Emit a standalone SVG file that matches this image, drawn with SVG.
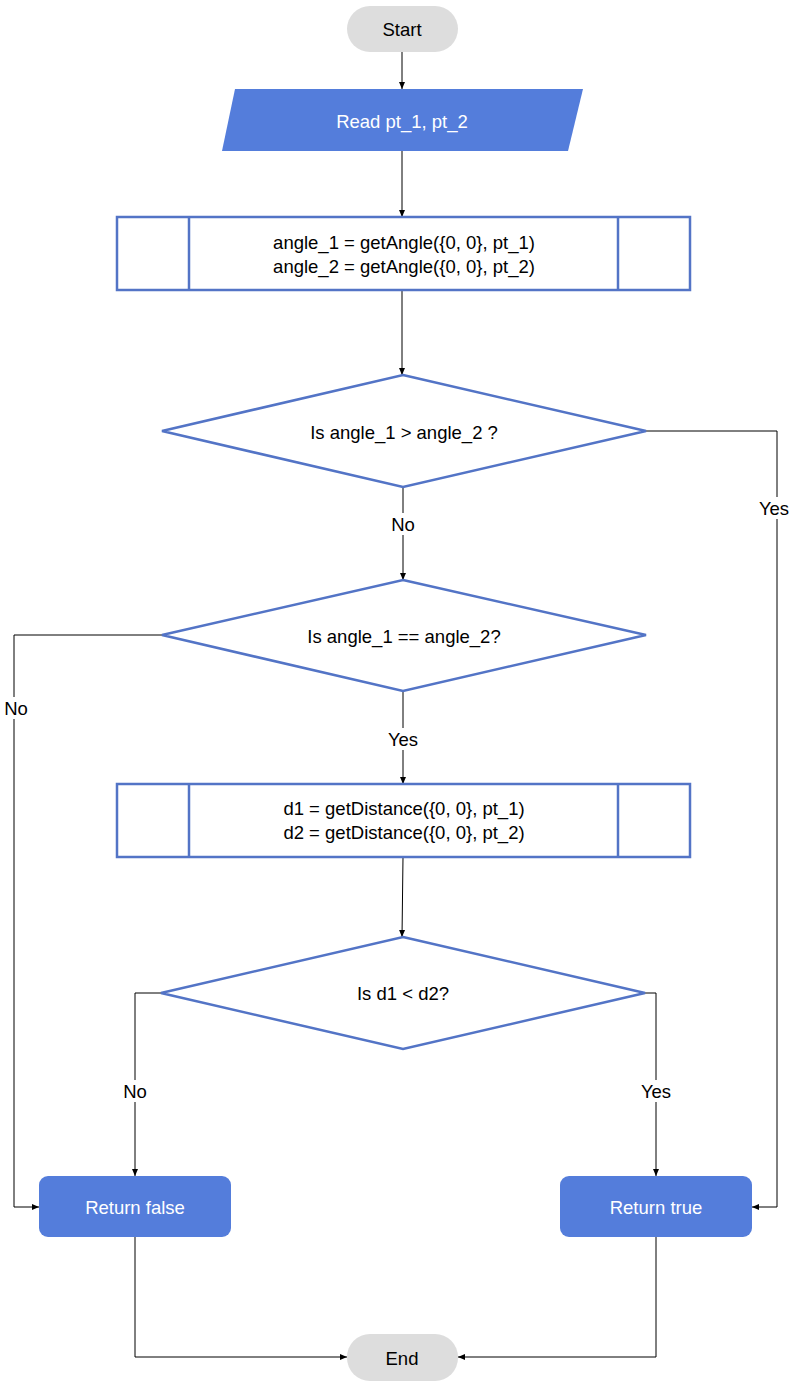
<svg xmlns="http://www.w3.org/2000/svg" width="792" height="1384" viewBox="0 0 792 1384">
<defs>
<marker id="ah" markerWidth="8" markerHeight="8" refX="7" refY="4" orient="auto" markerUnits="userSpaceOnUse">
<path d="M0,1 L7,4 L0,7 Z" fill="#000"/>
</marker>
<style>
text{font-family:"Liberation Sans",Arial,sans-serif;font-size:18.5px;text-anchor:middle;dominant-baseline:central;}
.term{fill:#dddddd;}
.blue{fill:#547ddb;}
.wt{fill:#ffffff;}
.bk{fill:#000000;}
.box{fill:#ffffff;stroke:#5374c6;stroke-width:2.5;}
.con{fill:none;stroke:#000;stroke-width:1;marker-end:url(#ah);}
.lbl{fill:#ffffff;}
</style>
</defs>
<rect width="792" height="1384" fill="#ffffff"/>
<g id="connectors">
<path class="con" d="M402,52 L402,89"/>
<path class="con" d="M402,151 L402,217"/>
<path class="con" d="M402,290 L402,375"/>
<path class="con" d="M403,487 L403,580"/>
<path class="con" d="M646,431 L777,431 L777,1207 L752,1207"/>
<path class="con" d="M162,635 L14,635 L14,1207 L39,1207"/>
<path class="con" d="M403,691 L403,784"/>
<path class="con" d="M403,857 L402,937"/>
<path class="con" d="M161,993 L135,993 L135,1176"/>
<path class="con" d="M645,993 L656,993 L656,1176"/>
<path class="con" d="M135,1237 L135,1357 L347,1357"/>
<path class="con" d="M656,1237 L656,1357 L458,1357"/>
<rect class="lbl" x="386" y="513" width="34" height="22"/>
<text class="bk" x="403" y="524">No</text>
<rect class="lbl" x="757" y="497" width="34" height="22"/>
<text class="bk" x="774" y="508">Yes</text>
<rect class="lbl" x="0" y="697" width="32" height="22"/>
<text class="bk" x="16" y="708">No</text>
<rect class="lbl" x="386" y="728" width="34" height="22"/>
<text class="bk" x="403" y="739">Yes</text>
<rect class="lbl" x="118" y="1080" width="34" height="22"/>
<text class="bk" x="135" y="1091">No</text>
<rect class="lbl" x="639" y="1080" width="34" height="22"/>
<text class="bk" x="656" y="1091">Yes</text>
</g>
<g id="start">
<rect class="term" x="347" y="6" width="111" height="46" rx="23"/>
<text class="bk" x="402" y="29">Start</text>
</g>
<g id="read">
<polygon class="blue" points="235,89 583,89 568,151 222,151"/>
<text class="wt" x="402" y="121">Read pt_1, pt_2</text>
</g>
<g id="process1">
<rect class="box" x="117" y="217" width="573" height="73"/>
<line class="box" x1="189" y1="217" x2="189" y2="290"/>
<line class="box" x1="618" y1="217" x2="618" y2="290"/>
<text class="bk" x="404" y="242">angle_1 = getAngle({0, 0}, pt_1)</text>
<text class="bk" x="404" y="266">angle_2 = getAngle({0, 0}, pt_2)</text>
</g>
<g id="decision1">
<polygon class="box" points="403,375 646,431 403,487 162,431"/>
<text class="bk" x="404" y="432">Is angle_1 &gt; angle_2 ?</text>
</g>
<g id="decision2">
<polygon class="box" points="403,580 646,635 403,691 162,635"/>
<text class="bk" x="404" y="636">Is angle_1 == angle_2?</text>
</g>
<g id="process2">
<rect class="box" x="117" y="784" width="573" height="73"/>
<line class="box" x1="189" y1="784" x2="189" y2="857"/>
<line class="box" x1="618" y1="784" x2="618" y2="857"/>
<text class="bk" x="404" y="808">d1 = getDistance({0, 0}, pt_1)</text>
<text class="bk" x="404" y="832">d2 = getDistance({0, 0}, pt_2)</text>
</g>
<g id="decision3">
<polygon class="box" points="403,937 645,993 403,1049 161,993"/>
<text class="bk" x="403" y="993">Is d1 &lt; d2?</text>
</g>
<g id="retfalse">
<rect class="blue" x="39" y="1176" width="192" height="61" rx="9"/>
<text class="wt" x="135" y="1207">Return false</text>
</g>
<g id="rettrue">
<rect class="blue" x="560" y="1176" width="192" height="61" rx="9"/>
<text class="wt" x="656" y="1207">Return true</text>
</g>
<g id="end">
<rect class="term" x="347" y="1334" width="111" height="47" rx="23"/>
<text class="bk" x="402" y="1358">End</text>
</g>
</svg>
